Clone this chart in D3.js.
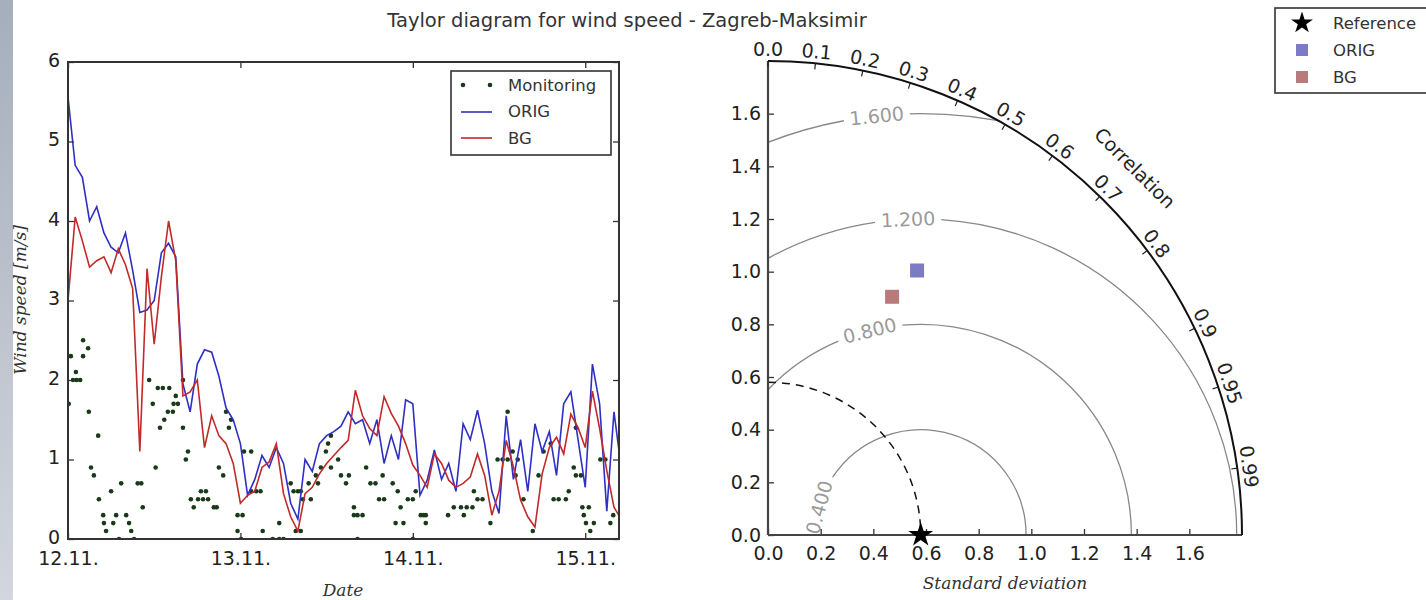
<!DOCTYPE html>
<html>
<head>
<meta charset="utf-8">
<script src="https://cdn.jsdelivr.net/npm/d3@7"></script>
<style>
  body { margin: 0; background: #fff; }
  svg text { font-family: "DejaVu Sans", sans-serif; fill: #222; }
</style>
</head>
<body>
<svg id="chart" width="1426" height="600"></svg>
<script>
// hourly model output from 12.11. 00h
var hours = d3.range(0, 78);
var orig = [5.56, 4.7, 4.55, 4.0, 4.18, 3.85, 3.67, 3.6, 3.85, 3.38,
            2.85, 2.88, 3.0, 3.6, 3.72, 3.55, 1.95, 1.6, 2.2, 2.38,
            2.35, 2.05, 1.65, 1.5, 1.2, 0.55, 0.75, 1.05, 0.9, 1.15,
            0.95, 0.45, 0.25, 1.0, 0.85, 1.2, 1.3, 1.35, 1.42, 1.6,
            1.45, 1.5, 1.2, 1.5, 0.95, 1.3, 1.0, 1.75, 1.7, 0.55,
            0.74, 1.12, 0.75, 0.95, 0.6, 1.45, 1.25, 1.62, 1.2, 0.6,
            0.32, 1.55, 0.75, 1.25, 0.6, 1.45, 1.1, 1.35, 0.8, 1.7,
            1.85, 1.25, 0.65, 2.2, 1.7, 0.35, 1.6, 0.9];
var bg = [3.0, 4.05, 3.75, 3.42, 3.5, 3.55, 3.35, 3.65, 3.45, 3.15,
          1.1, 3.4, 2.45, 3.3, 4.0, 3.5, 1.8, 1.85, 2.0, 1.15,
          1.55, 1.3, 1.2, 0.95, 0.45, 0.55, 0.6, 0.9, 0.97, 1.2,
          0.57, 0.28, 0.1, 0.57, 0.65, 0.82, 0.95, 1.05, 1.15, 1.24,
          1.87, 1.55, 1.39, 1.3, 1.79, 1.58, 1.42, 1.2, 0.93, 0.8,
          0.65, 1.07, 0.95, 0.74, 0.65, 0.7, 0.78, 1.07, 0.8, 0.3,
          0.6, 1.24, 0.91, 0.49, 0.28, 0.15, 0.82, 1.15, 1.28, 1.07,
          1.57, 1.4, 1.15, 1.86, 1.39, 0.86, 0.4, 0.25];

// station measurements (hour since 12.11. 00h, speed)
var monHour = [0.1, 0.4, 0.7, 1.1, 1.2, 1.7, 2.1, 2.1, 2.8, 2.9, 3.2, 3.6, 4.2, 4.3, 4.9, 5.0, 5.3,
               6.0, 6.3, 6.7, 7.1, 7.4, 8.1, 8.5, 8.8, 9.2, 9.7, 10.2, 10.4, 11.3, 11.8, 12.2, 12.5,
               12.8, 13.2, 13.4, 13.9, 14.1, 14.6, 14.7, 15.0, 15.3, 16.0, 16.0, 16.4, 16.7, 17.1,
               17.5, 18.1, 18.5, 18.8, 19.2, 19.5, 20.3, 20.7, 21.0, 21.6, 22.0, 22.4, 22.7, 23.6,
               23.6, 24.1, 24.3, 24.5, 25.5, 25.5, 26.2, 26.8, 27.1, 28.5, 29.4, 29.4, 30.0, 31.0,
               31.4, 31.7, 32.0, 32.4, 32.4, 32.7, 33.5, 33.8, 34.5, 34.8, 35.2, 35.9, 36.2, 36.6,
               36.6, 37.6, 38.0, 38.7, 39.1, 39.8, 39.8, 40.3, 40.3, 41.0, 41.5, 42.1, 42.8, 43.3,
               43.8, 44.0, 45.2, 45.6, 45.9, 46.3, 46.7, 47.3, 48.0, 48.0, 48.4, 49.1, 49.5, 49.8,
               49.8, 52.9, 53.7, 54.7, 55.1, 55.5, 56.3, 56.5, 57.0, 57.7, 58.8, 59.8, 60.5, 61.2,
               61.2, 61.9, 62.3, 62.6, 63.4, 64.7, 65.5, 66.2, 67.2, 67.6, 68.3, 69.3, 69.7, 70.4,
               70.7, 70.7, 71.4, 71.6, 71.8, 72.1, 72.5, 72.7, 73.2, 74.1, 74.8, 75.5, 75.9];
var monSpeed = [1.7, 2.3, 2.0, 2.1, 2.0, 2.0, 2.3, 2.5, 2.4, 1.6, 0.9, 0.8, 1.3, 0.5, 0.3, 0.2, 0.1,
                0.6, 0.2, 0.3, 0.0, 0.7, 0.3, 0.2, 0.1, 0.0, 0.7, 0.7, 0.4, 2.0, 1.7, 0.9, 1.9,
                1.4, 1.9, 1.5, 1.6, 1.9, 1.6, 1.7, 1.8, 1.7, 1.4, 2.0, 1.0, 1.1, 0.5,
                0.4, 0.5, 0.6, 0.5, 0.6, 0.5, 0.4, 0.4, 0.9, 0.8, 1.6, 1.4, 1.5, 0.3,
                0.1, 0.0, 0.3, 1.1, 1.1, 0.6, 0.6, 0.6, 0.1, 0.0, 0.0, 0.2, 0.0, 0.7,
                0.6, 0.1, 0.6, 0.6, 0.1, 0.5, 0.7, 0.5, 0.8, 0.7, 0.9, 1.1, 1.2, 1.3,
                0.9, 1.0, 0.8, 0.7, 0.8, 0.4, 0.3, 0.3, 0.0, 0.3, 0.9, 0.7, 0.7, 0.5,
                0.8, 0.5, 0.7, 0.2, 0.6, 0.4, 0.2, 0.5, 0.5, 0.0, 0.6, 0.3, 0.3, 0.3,
                0.2, 0.3, 0.4, 0.4, 0.3, 0.4, 0.4, 0.6, 0.5, 0.5, 0.2, 1.0, 1.0, 1.0,
                1.6, 1.1, 0.8, 1.0, 0.5, 0.1, 0.8, 1.1, 1.2, 0.5, 0.5, 0.5, 0.6, 0.9,
                1.4, 0.8, 0.8, 0.4, 0.3, 0.2, 0.4, 0.1, 0.2, 1.0, 1.0, 0.2, 0.3];

var dayTicks = [0, 24, 48, 72];
var dayLabels = ["12.11.", "13.11.", "14.11.", "15.11."];
var speedTicks = [0, 1, 2, 3, 4, 5, 6];

// Taylor diagram statistics
var refStd = 0.58;
var modelNames = ["ORIG", "BG"];
var modelStd = [1.153, 1.02];
var modelCorr = [0.491, 0.462];
var modelColors = ["#7b7bc6", "#b87a7a"];
var rmsLevels = [0.4, 0.8, 1.2, 1.6];
var corrTicks = [0.0, 0.1, 0.2, 0.3, 0.4, 0.5, 0.6, 0.7, 0.8, 0.9, 0.95, 0.99];
var stdTicks = [0.0, 0.2, 0.4, 0.6, 0.8, 1.0, 1.2, 1.4, 1.6];
var stdMax = 1.8;

var svg = d3.select("#chart");
var defs = svg.append("defs");

svg.append("rect").attr("width", 1426).attr("height", 600).attr("fill", "#fff");

// grey slide edge on the left
var grad = defs.append("linearGradient").attr("id", "edge")
    .attr("x1", 0).attr("y1", 0).attr("x2", 0).attr("y2", 1);
grad.append("stop").attr("offset", "0%").attr("stop-color", "#a6aebc");
grad.append("stop").attr("offset", "100%").attr("stop-color", "#d3d6dc");
svg.append("rect").attr("x", 0).attr("y", 0).attr("width", 13).attr("height", 600)
    .attr("fill", "url(#edge)");

svg.append("text")
    .attr("x", 627).attr("y", 27)
    .attr("text-anchor", "middle")
    .style("font-size", "19.5px")
    .style("fill", "#333")
    .text("Taylor diagram for wind speed - Zagreb-Maksimir");

// ---------------- time series ----------------
var x = d3.scaleLinear().domain([0, 76.7]).range([68, 619]);
var y = d3.scaleLinear().domain([0, 6]).range([539, 62]);

defs.append("clipPath").attr("id", "plotclip")
    .append("rect").attr("x", 68).attr("y", 62).attr("width", 551).attr("height", 477);

var ts = svg.append("g");

var plot = ts.append("g").attr("clip-path", "url(#plotclip)");

plot.selectAll("circle")
    .data(monHour)
    .enter()
    .append("circle")
    .attr("cx", function (d) { return x(d); })
    .attr("cy", function (d, i) { return y(monSpeed[i]); })
    .attr("r", 2.3)
    .attr("fill", "#183a18");

var line = d3.line()
    .x(function (d, i) { return x(hours[i]); })
    .y(function (d) { return y(d); });

plot.append("path").datum(orig).attr("d", line)
    .attr("fill", "none").attr("stroke", "#2f2fc4").attr("stroke-width", 1.6);
plot.append("path").datum(bg).attr("d", line)
    .attr("fill", "none").attr("stroke", "#c22a2a").attr("stroke-width", 1.6);

function styleAxis(g) {
    g.select(".domain").remove();
    g.selectAll(".tick line").attr("stroke", "#333").attr("stroke-width", 1.3);
    g.selectAll(".tick text").style("font-size", "19px").style("fill", "#222")
        .attr("font-family", null);
}

ts.append("g").attr("transform", "translate(0,539)")
    .call(d3.axisBottom(x).tickValues(dayTicks)
        .tickFormat(function (d, i) { return dayLabels[i]; })
        .tickSize(-6).tickPadding(13))
    .call(styleAxis);
ts.append("g").attr("transform", "translate(0,62)")
    .call(d3.axisTop(x).tickValues(dayTicks).tickFormat("").tickSize(-6))
    .call(styleAxis);
ts.append("g").attr("transform", "translate(68,0)")
    .call(d3.axisLeft(y).tickValues(speedTicks).tickFormat(d3.format("d"))
        .tickSize(-6).tickPadding(8))
    .call(styleAxis)
    .call(function (g) { g.selectAll(".tick text").attr("dy", "0.22em"); });
ts.append("g").attr("transform", "translate(619,0)")
    .call(d3.axisRight(y).tickValues(speedTicks).tickFormat("").tickSize(-6))
    .call(styleAxis);

ts.append("rect").attr("x", 68).attr("y", 62).attr("width", 551).attr("height", 477)
    .attr("fill", "none").attr("stroke", "#333").attr("stroke-width", 2);

ts.append("text")
    .attr("x", 343).attr("y", 596)
    .attr("text-anchor", "middle")
    .style("font-family", "'DejaVu Serif', serif").style("font-style", "italic")
    .style("font-size", "17px").style("fill", "#333")
    .text("Date");

ts.append("text")
    .attr("transform", "translate(26,300) rotate(-90)")
    .attr("text-anchor", "middle")
    .style("font-family", "'DejaVu Serif', serif").style("font-style", "italic")
    .style("font-size", "17px").style("fill", "#333")
    .text("Wind speed [m/s]");

// legend of the time series
var leg = ts.append("g");
leg.append("rect").attr("x", 451).attr("y", 71).attr("width", 160).attr("height", 84)
    .attr("fill", "#fff").attr("stroke", "#333").attr("stroke-width", 1.6);
leg.selectAll("circle").data([463, 490]).enter().append("circle")
    .attr("cx", function (d) { return d; }).attr("cy", 85).attr("r", 2.3).attr("fill", "#183a18");
leg.append("line").attr("x1", 461).attr("x2", 492).attr("y1", 112).attr("y2", 112)
    .attr("stroke", "#2f2fc4").attr("stroke-width", 1.6);
leg.append("line").attr("x1", 461).attr("x2", 492).attr("y1", 138).attr("y2", 138)
    .attr("stroke", "#c22a2a").attr("stroke-width", 1.6);
leg.selectAll("text").data(["Monitoring", "ORIG", "BG"]).enter().append("text")
    .attr("x", 508).attr("y", function (d, i) { return 85 + i * 26.5; })
    .attr("dy", "0.35em")
    .style("font-size", "16.5px").style("fill", "#333")
    .text(function (d) { return d; });

// ---------------- Taylor diagram ----------------
var ox = 768, oy = 535;
var sx = d3.scaleLinear().domain([0, stdMax]).range([ox, ox + 474]);
var sy = d3.scaleLinear().domain([0, stdMax]).range([oy, oy - 474]);
var R = sx(stdMax) - ox;

var td = svg.append("g");

defs.append("clipPath").attr("id", "quarter")
    .append("path").attr("d", function () {
        var p = d3.path();
        p.moveTo(ox, oy);
        p.lineTo(ox, oy - R);
        p.arc(ox, oy, R, -Math.PI / 2, 0);
        p.closePath();
        return p.toString();
    });

// centred RMS difference contours with inline labels
var labelAngle = [164.8, 104, 92.3, 96];
var cont = td.append("g");
var cx0 = sx(refStd);
rmsLevels.forEach(function (lev, k) {
    var rad = sx(lev) - ox;
    var th = labelAngle[k] * Math.PI / 180;
    var lx = cx0 + rad * Math.cos(th), ly = oy - rad * Math.sin(th);
    var rot = Math.atan2(Math.cos(th), Math.sin(th)) * 180 / Math.PI;
    var t = cont.append("text")
        .attr("transform", "translate(" + lx + "," + ly + ") rotate(" + rot + ")")
        .attr("text-anchor", "middle").attr("dy", "0.36em")
        .style("font-size", "19px").style("fill", "#9a9a9a")
        .text(d3.format(".3f")(lev));
    var w = t.node().getComputedTextLength();
    var gap = (w / 2 + 6) / rad;
    var p = d3.path();
    if (th - gap > 0) {
        p.moveTo(cx0 + rad, oy);
        p.arc(cx0, oy, rad, 0, -(th - gap), true);
    }
    if (th + gap < Math.PI) {
        p.moveTo(cx0 + rad * Math.cos(th + gap), oy - rad * Math.sin(th + gap));
        p.arc(cx0, oy, rad, -(th + gap), -Math.PI, true);
    }
    cont.append("path").attr("d", p.toString())
        .attr("clip-path", "url(#quarter)")
        .attr("fill", "none").attr("stroke", "#888").attr("stroke-width", 1.3);
});

// reference standard deviation (dashed)
td.append("path")
    .attr("d", function () {
        var p = d3.path();
        var rr = sx(refStd) - ox;
        p.moveTo(ox, oy - rr);
        p.arc(ox, oy, rr, -Math.PI / 2, 0);
        return p.toString();
    })
    .attr("fill", "none").attr("stroke", "#111").attr("stroke-width", 1.5)
    .attr("stroke-dasharray", "8,6");

// std axes
td.append("g").attr("transform", "translate(0," + oy + ")")
    .call(d3.axisBottom(sx).tickValues(stdTicks).tickFormat(d3.format(".1f"))
        .tickSize(-6).tickPadding(12))
    .call(styleAxis);
td.append("g").attr("transform", "translate(" + ox + ",0)")
    .call(d3.axisLeft(sy).tickValues(stdTicks).tickFormat(d3.format(".1f"))
        .tickSize(-6).tickPadding(7))
    .call(styleAxis);
td.append("line").attr("x1", ox).attr("x2", ox + R).attr("y1", oy).attr("y2", oy)
    .attr("stroke", "#444").attr("stroke-width", 2.2);
td.append("line").attr("x1", ox).attr("x2", ox).attr("y1", oy).attr("y2", oy - R)
    .attr("stroke", "#444").attr("stroke-width", 2.2);

// outer correlation arc
td.append("path")
    .attr("d", function () {
        var p = d3.path();
        p.moveTo(ox, oy - R);
        p.arc(ox, oy, R, -Math.PI / 2, 0);
        return p.toString();
    })
    .attr("fill", "none").attr("stroke", "#111").attr("stroke-width", 2);

td.selectAll(".ctick").data(corrTicks).enter().append("line")
    .attr("x1", function (c) { return ox + R * c; })
    .attr("y1", function (c) { return oy - R * Math.sin(Math.acos(c)); })
    .attr("x2", function (c) { return ox + (R - 6) * c; })
    .attr("y2", function (c) { return oy - (R - 6) * Math.sin(Math.acos(c)); })
    .attr("stroke", "#222").attr("stroke-width", 1.2);

var RL = 486;
td.selectAll(".clabel").data(corrTicks).enter().append("text")
    .attr("transform", function (c) {
        var a = Math.acos(c);
        return "translate(" + (ox + RL * Math.cos(a)) + "," + (oy - RL * Math.sin(a)) +
            ") rotate(" + (90 - a * 180 / Math.PI) + ")";
    })
    .attr("text-anchor", "middle").attr("dy", "0.36em")
    .style("font-size", "19px").style("fill", "#222")
    .text(function (c) { return c === 0.95 || c === 0.99 ? String(c) : d3.format(".1f")(c); });

td.append("text")
    .attr("transform", "translate(" + (ox + 519 * Math.cos(Math.PI / 4)) + "," +
        (oy - 519 * Math.sin(Math.PI / 4)) + ") rotate(45)")
    .attr("text-anchor", "middle").attr("dy", "0.36em")
    .style("font-size", "19px").style("fill", "#222")
    .text("Correlation");

td.append("text")
    .attr("x", sx(stdMax / 2)).attr("y", 589)
    .attr("text-anchor", "middle")
    .style("font-family", "'DejaVu Serif', serif").style("font-style", "italic")
    .style("font-size", "17px").style("fill", "#333")
    .text("Standard deviation");

// model points and reference star
modelNames.forEach(function (name, i) {
    var a = Math.acos(modelCorr[i]);
    var mx = ox + (sx(modelStd[i]) - ox) * Math.cos(a);
    var my = oy - (sx(modelStd[i]) - ox) * Math.sin(a);
    td.append("rect").attr("x", mx - 7).attr("y", my - 7).attr("width", 14).attr("height", 14)
        .attr("fill", modelColors[i]);
});

var star = d3.symbol().type(d3.symbolStar).size(190);
td.append("path").attr("d", star())
    .attr("transform", "translate(" + sx(refStd) + "," + oy + ")")
    .attr("fill", "#000");

// legend of the Taylor diagram
var leg2 = svg.append("g");
leg2.append("rect").attr("x", 1275).attr("y", 8).attr("width", 160).attr("height", 85)
    .attr("fill", "#fff").attr("stroke", "#333").attr("stroke-width", 1.6);
leg2.append("path").attr("d", d3.symbol().type(d3.symbolStar).size(150)())
    .attr("transform", "translate(1302,23)").attr("fill", "#000");
modelNames.forEach(function (name, i) {
    leg2.append("rect").attr("x", 1296).attr("y", 44 + i * 27).attr("width", 12).attr("height", 12)
        .attr("fill", modelColors[i]);
});
leg2.selectAll("text").data(["Reference"].concat(modelNames)).enter().append("text")
    .attr("x", 1333).attr("y", function (d, i) { return 23 + i * 27; })
    .attr("dy", "0.35em")
    .style("font-size", "16.5px").style("fill", "#333")
    .text(function (d) { return d; });
</script>
</body>
</html>
